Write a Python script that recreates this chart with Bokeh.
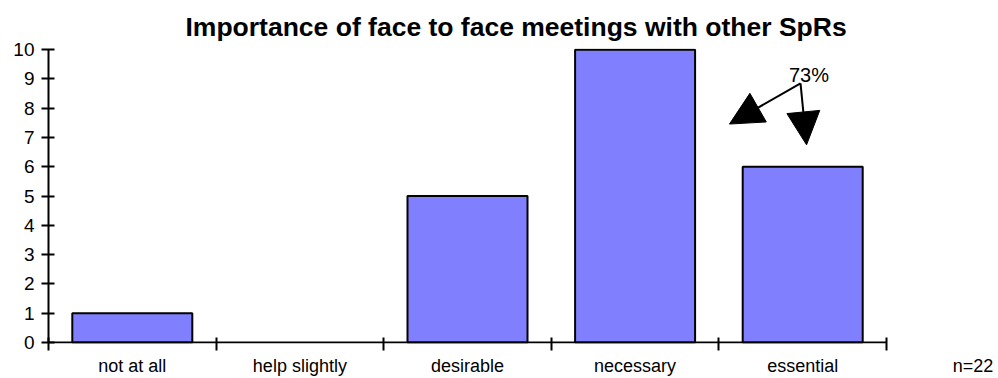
from bokeh.plotting import figure
from bokeh.models import (ColumnDataSource, FixedTicker, Range1d, Title, Label,
                          Arrow, NormalHead)
from bokeh.embed import file_html
from bokeh.resources import INLINE

# Survey answers: how important are face-to-face meetings with other SpRs
categories = ["not at all", "help slightly", "desirable", "necessary", "essential"]
counts = [1, 0, 5, 10, 6]
respondents = 22
share_label = "73%"

# Callout arrows pointing at the "necessary" and "essential" bars
arrow_start = (4.487, 8.85)
arrow_ends = [(4.063, 7.46), (4.523, 6.75)]

# where the sample-size note sits along the category axis
note_position = 5.516

FONT = "Liberation Sans"

n_cat = len(categories)
positions = [i + 0.5 for i in range(n_cat)]
source = ColumnDataSource(dict(x=positions, top=counts, cat=categories,
                               edge=[1.0 if c > 0 else 0.0 for c in counts]))

# the frame runs to the right edge so the note can live on the category axis
x_end = n_cat * 950 / 838
p = figure(width=998, height=378, output_backend="svg", toolbar_location=None,
           x_range=Range1d(0, x_end), y_range=Range1d(-0.035, 10.04),
           min_border_left=48, min_border_right=0, min_border_top=48,
           min_border_bottom=35)
p.background_fill_color = "white"
p.border_fill_color = "white"
p.outline_line_color = None
p.grid.visible = False

p.vbar(x="x", top="top", width=0.716, bottom=0, source=source,
       fill_color="#8080FF", line_color="black", line_width=2,
       line_alpha="edge")

# baseline of the category axis, only as wide as the categories
p.line(x=[0, n_cat], y=[0, 0], line_color="black", line_width=2)

# x axis: labels at category centres, tick marks at the category boundaries
xa = p.xaxis[0]
xa.ticker = FixedTicker(ticks=positions + [note_position],
                        minor_ticks=list(range(n_cat + 1)))
overrides = {pos: c for pos, c in zip(positions, categories)}
overrides[note_position] = f"n={respondents}"
xa.major_label_overrides = overrides
xa.major_tick_line_color = None
xa.minor_tick_in = 6
xa.minor_tick_out = 7
xa.minor_tick_line_color = "black"
xa.minor_tick_line_width = 2
xa.axis_line_color = None
xa.major_label_text_font = FONT
xa.major_label_text_font_size = "18px"
xa.major_label_text_color = "black"
xa.major_label_standoff = 5

ya = p.yaxis[0]
ya.ticker = FixedTicker(ticks=list(range(0, 11)))
ya.bounds = (0, 10)
ya.major_tick_in = 6
ya.major_tick_out = 7
ya.major_tick_line_width = 2
ya.major_tick_line_color = "black"
ya.minor_tick_line_color = None
ya.axis_line_width = 2
ya.axis_line_color = "black"
ya.major_label_text_font = FONT
ya.major_label_text_font_size = "19px"
ya.major_label_text_color = "black"
ya.major_label_standoff = 7

p.add_layout(Title(text="Importance of face to face meetings with other SpRs",
                   text_font=FONT, text_font_size="26.5px", text_font_style="bold",
                   text_color="black", align="left", offset=137, standoff=14),
             "above")

for xe, ye in arrow_ends:
    p.add_layout(Arrow(x_start=arrow_start[0], y_start=arrow_start[1],
                       x_end=xe, y_end=ye, line_color="black", line_width=2,
                       end=NormalHead(size=33, fill_color="black",
                                      line_color="black")))

p.add_layout(Label(x=arrow_start[0] + 0.05, y=arrow_start[1] - 0.1,
                   text=share_label, text_font=FONT, text_font_size="20px",
                   text_color="black", text_align="center",
                   text_baseline="bottom"))

open("out.html", "w").write(file_html(p, INLINE))
